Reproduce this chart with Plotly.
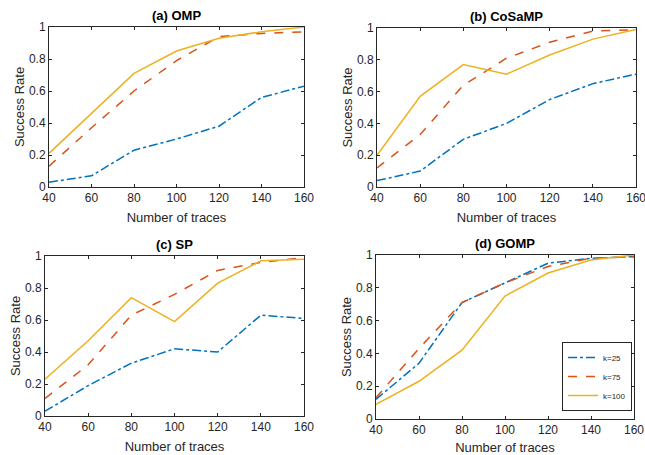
import plotly.graph_objects as go

x_traces = [40, 60, 80, 100, 120, 140, 160]
series_names = ["k=25", "k=75", "k=100"]
panel_titles = ["(a) OMP", "(b) CoSaMP", "(c) SP", "(d) GOMP"]

omp_k25 = [0.03, 0.07, 0.23, 0.30, 0.38, 0.56, 0.63]
omp_k75 = [0.13, 0.37, 0.60, 0.79, 0.94, 0.96, 0.97]
omp_k100 = [0.21, 0.46, 0.71, 0.85, 0.93, 0.97, 1.00]

cosamp_k25 = [0.04, 0.10, 0.30, 0.40, 0.55, 0.65, 0.71]
cosamp_k75 = [0.12, 0.33, 0.64, 0.81, 0.91, 0.98, 0.99]
cosamp_k100 = [0.20, 0.57, 0.77, 0.71, 0.83, 0.93, 0.99]

sp_k25 = [0.03, 0.19, 0.33, 0.42, 0.40, 0.63, 0.61]
sp_k75 = [0.11, 0.32, 0.63, 0.76, 0.91, 0.96, 0.99]
sp_k100 = [0.23, 0.47, 0.74, 0.59, 0.83, 0.97, 0.98]

gomp_k25 = [0.12, 0.34, 0.71, 0.83, 0.95, 0.98, 0.99]
gomp_k75 = [0.13, 0.43, 0.71, 0.83, 0.93, 0.98, 0.99]
gomp_k100 = [0.09, 0.23, 0.42, 0.75, 0.89, 0.97, 1.00]

x_ticks = [40, 60, 80, 100, 120, 140, 160]
y_ticks = [0, 0.2, 0.4, 0.6, 0.8, 1]
y_ticklabels = ["0", "0.2", "0.4", "0.6", "0.8", "1"]

panels = [
    [omp_k25, omp_k75, omp_k100],
    [cosamp_k25, cosamp_k75, cosamp_k100],
    [sp_k25, sp_k75, sp_k100],
    [gomp_k25, gomp_k75, gomp_k100],
]

W, H = 645, 455
# pixel boxes: (x0, x1, ytop, ybottom)
boxes = [(49, 304, 27, 187), (377, 636, 28, 187), (45, 304, 256, 416), (376, 634, 255, 419)]

colors = ["#0072BD", "#D95319", "#EDB120"]
dashes = ["dashdot", "dash", "solid"]

fig = go.Figure()
FONT = "Liberation Sans, Arial, sans-serif"
for i, (data, box) in enumerate(zip(panels, boxes)):
    xa = "x" if i == 0 else f"x{i+1}"
    ya = "y" if i == 0 else f"y{i+1}"
    for j, vals in enumerate(data):
        fig.add_trace(go.Scatter(
            x=x_traces, y=vals, mode="lines", xaxis=xa, yaxis=ya,
            name=series_names[j], showlegend=(i == 3),
            line=dict(color=colors[j], dash=dashes[j], width=1.5),
        ))
    x0, x1, yt, yb = box
    axis_common = dict(
        showline=True, linecolor="#262626", linewidth=1, mirror="ticks",
        ticks="inside", ticklen=3, tickcolor="#262626",
        showgrid=False, zeroline=False, automargin=False,
        ticklabeloverflow="allow",
        tickfont=dict(family=FONT, size=12, color="#262626"),
    )
    fig.layout[f"xaxis{'' if i == 0 else i+1}"] = dict(
        domain=[x0 / W, x1 / W], anchor=ya, range=[40, 160],
        tickvals=x_ticks, title=dict(text="Number of traces", standoff=8,
                                      font=dict(family=FONT, size=13, color="#262626")),
        **axis_common,
    )
    fig.layout[f"yaxis{'' if i == 0 else i+1}"] = dict(
        domain=[1 - yb / H, 1 - yt / H], anchor=xa, range=[0, 1],
        tickvals=y_ticks, ticktext=y_ticklabels,
        title=dict(text="Success Rate", standoff=1,
                   font=dict(family=FONT, size=13, color="#262626")),
        **axis_common,
    )
    fig.add_annotation(
        text=f"<b>{panel_titles[i]}</b>", xref="paper", yref="paper",
        x=(x0 + x1) / 2 / W, y=1 - (yt - 2) / H, xanchor="center", yanchor="bottom",
        showarrow=False, font=dict(family=FONT, size=13, color="#000000"),
    )

fig.update_layout(
    width=W, height=H, margin=dict(l=0, r=0, t=0, b=0),
    paper_bgcolor="white", plot_bgcolor="white",
    legend=dict(
        x=632 / W, y=1 - 411 / H, xanchor="right", yanchor="bottom",
        bgcolor="white", bordercolor="#262626", borderwidth=1,
        font=dict(family=FONT, size=8, color="#262626"),
        tracegroupgap=0,
    ),
)

fig.write_html("out.html")
